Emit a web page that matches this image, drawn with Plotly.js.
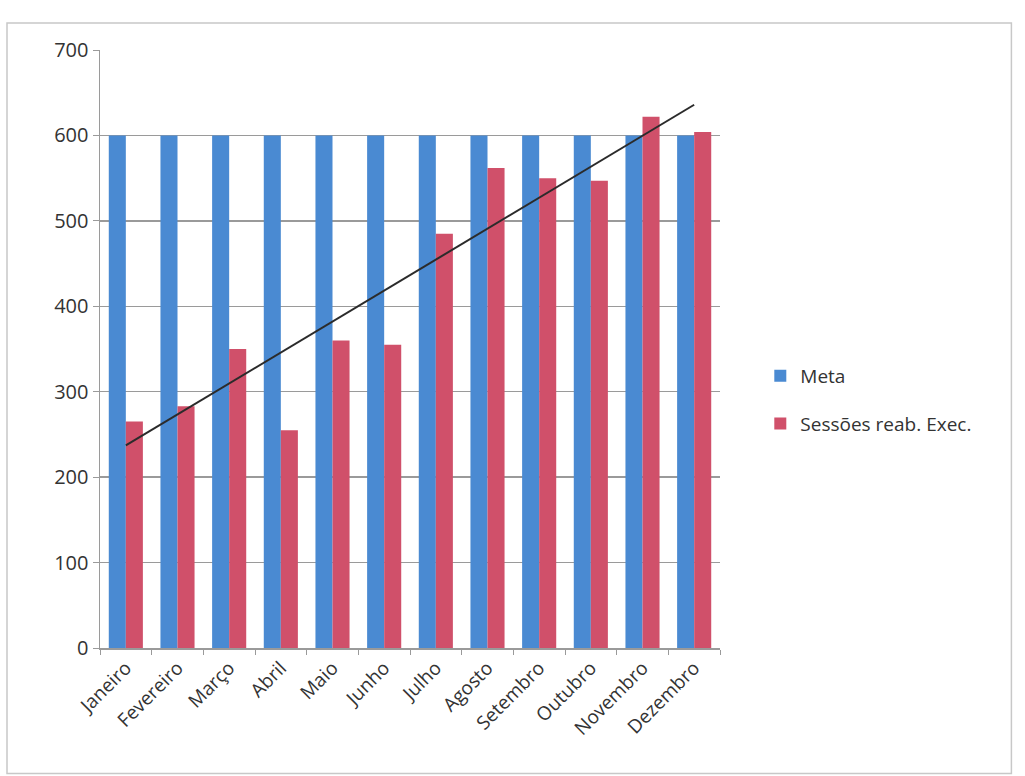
<!DOCTYPE html>
<html>
<head>
<meta charset="utf-8">
<script src="https://cdn.plot.ly/plotly-3.0.1.min.js"></script>
<style>
html,body{margin:0;padding:0;background:#fff;}
#chart{width:1025px;height:776px;}
</style>
</head>
<body>
<div id="chart"></div>
<script>
var months = ["Janeiro","Fevereiro","Março","Abril","Maio","Junho","Julho","Agosto","Setembro","Outubro","Novembro","Dezembro"];
var meta = [600,600,600,600,600,600,600,600,600,600,600,600];
var sessoes = [265,283,350,255,360,355,485,562,550,547,622,604];
var seriesNames = ["Meta","Sessões reab. Exec."];

// linear trendline (least squares) of the executed sessions, like Excel's trendline
var n = sessoes.length, sx=0, sy=0, sxy=0, sxx=0;
for (var i=0;i<n;i++){ var x=i+1; sx+=x; sy+=sessoes[i]; sxy+=x*sessoes[i]; sxx+=x*x; }
var slope = (n*sxy - sx*sy)/(n*sxx - sx*sx);
var intercept = (sy - slope*sx)/n;
var trend = sessoes.map(function(_,i){ return intercept + slope*(i+1); });

var font = "Open Sans, Lato, sans-serif";
var data = [
  {type:"bar", x:months, y:meta, name:seriesNames[0], legendgroup:"a", marker:{color:"#4A8AD2"}},
  {type:"bar", x:months, y:sessoes, name:seriesNames[1], legendgroup:"b", marker:{color:"#D0506A"}},
  {type:"scatter", mode:"lines", x:[months[0], months[n-1]], y:[trend[0], trend[n-1]],
   line:{color:"#2b2b2b", width:2}, showlegend:false, hoverinfo:"skip"}
];
var layout = {
  width:1025, height:776,
  margin:{l:100, r:305, t:50, b:128},
  paper_bgcolor:"#fff", plot_bgcolor:"#fff",
  barmode:"group", bargap:0.34, bargroupgap:0,
  font:{family:font, size:19, color:"#333"},
  xaxis:{tickangle:-45, showgrid:false, showline:true, linecolor:"#9a9a9a", linewidth:1.5,
         ticks:"outside", ticklen:5, tickcolor:"#9a9a9a", tickson:"boundaries",
         tickfont:{size:19, color:"#333"}},
  yaxis:{range:[0,700], dtick:100, showgrid:true, gridcolor:"#9a9a9a", gridwidth:1.3,
         showline:true, linecolor:"#9a9a9a", linewidth:1.5, ticks:"outside", ticklen:6,
         tickcolor:"#9a9a9a", zeroline:false, tickfont:{size:20, color:"#333"}},
  legend:{x:1.065, y:0.415, xanchor:"left", yanchor:"middle", font:{size:19, color:"#333"},
          tracegroupgap:20, itemwidth:30, bgcolor:"rgba(0,0,0,0)"},
  shapes:[{type:"rect", xref:"paper", yref:"paper", x0:-0.15, x1:1.47, y0:-0.21, y1:1.045,
           line:{color:"#c8c8c8", width:1.5}}]
};
Plotly.newPlot("chart", data, layout, {displayModeBar:false, staticPlot:true});
</script>
</body>
</html>
